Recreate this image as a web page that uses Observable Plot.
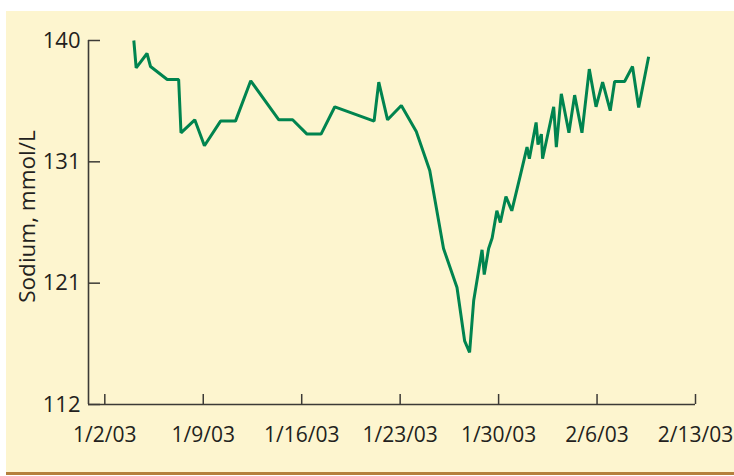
<!DOCTYPE html>
<html><head><meta charset="utf-8">
<script src="https://cdn.jsdelivr.net/npm/d3@7"></script>
<script src="https://cdn.jsdelivr.net/npm/@observablehq/plot@0.6"></script>
<style>
html,body{margin:0;padding:0;background:#fff;width:734px;height:476px;overflow:hidden;}
#panel{position:absolute;left:6px;top:11px;width:728px;height:461px;background:#fdf5cf;border-bottom:3px solid #b5803d;}
#chart{position:absolute;left:0;top:0;}
</style></head><body>
<div id="panel"></div>
<div id="chart"></div>
<script>
const times = [
"2003-01-04T01:30","2003-01-04T05:30","2003-01-05T00:00","2003-01-05T06:00","2003-01-06T10:30",
"2003-01-07T06:00","2003-01-07T10:00","2003-01-08T09:30","2003-01-09T02:00","2003-01-10T05:30",
"2003-01-11T07:00","2003-01-12T09:00","2003-01-14T09:00","2003-01-15T08:30","2003-01-16T09:00",
"2003-01-17T09:00","2003-01-18T08:30","2003-01-21T03:30","2003-01-21T11:30","2003-01-22T02:30",
"2003-01-23T02:00","2003-01-24T03:30","2003-01-25T02:30","2003-01-26T02:00","2003-01-27T01:00",
"2003-01-27T14:00","2003-01-27T22:30","2003-01-28T05:30","2003-01-28T19:45","2003-01-28T23:30",
"2003-01-29T07:00","2003-01-29T13:00","2003-01-29T21:00","2003-01-30T03:00","2003-01-30T12:30",
"2003-01-30T22:30","2003-01-31T13:30","2003-02-01T00:30","2003-02-01T04:30","2003-02-01T16:00",
"2003-02-01T19:15","2003-02-02T01:00","2003-02-02T03:00","2003-02-02T22:00","2003-02-03T02:30",
"2003-02-03T11:00","2003-02-04T00:00","2003-02-04T09:45","2003-02-04T22:15","2003-02-05T10:45",
"2003-02-05T22:15","2003-02-06T09:30","2003-02-06T22:30","2003-02-07T06:00","2003-02-07T23:00",
"2003-02-08T12:30","2003-02-08T23:00","2003-02-09T16:00"
];
const sodium = [
140.0,137.9,139.0,138.0,137.0,
137.0,132.9,133.9,131.9,133.8,
133.8,136.9,133.9,133.9,132.8,
132.8,134.9,133.8,136.8,133.9,
135.0,133.0,130.0,124.0,121.0,
116.9,116.0,120.0,123.9,122.0,
124.0,124.8,126.9,126.0,128.0,
126.9,129.7,131.8,130.9,133.7,
132.0,132.8,130.9,134.9,131.8,
135.9,132.9,135.8,132.9,137.8,
134.9,136.8,134.6,136.85,136.85,
138.0,134.85,138.75
];
const xTickDates = ["2003-01-02","2003-01-09","2003-01-16","2003-01-23","2003-01-30","2003-02-06","2003-02-13"];
const xTickLabels = ["1/2/03","1/9/03","1/16/03","1/23/03","1/30/03","2/6/03","2/13/03"];
const yTickValues = [112, 121.333, 130.667, 140];
const yTickLabels = ["112","121","131","140"];
const yLabel = "Sodium, mmol/L";

const data = times.map((t, i) => ({date: new Date(t + ":00Z"), value: sodium[i]}));
const xDates = xTickDates.map(d => new Date(d + "T00:00:00Z"));
const xLabelMap = new Map(xDates.map((d, i) => [+d, xTickLabels[i]]));
const yLabelMap = new Map(yTickValues.map((v, i) => [v, yTickLabels[i]]));
const xStart = new Date(Date.UTC(2002, 11, 31, 20, 10));
const axisColor = "#3c3a36";

const plot = Plot.plot({
  width: 734, height: 476,
  marginLeft: 88, marginRight: 39, marginTop: 40, marginBottom: 72,
  style: {background: "transparent", fontFamily: "'Open Sans', sans-serif", fontSize: "22px", color: "#231f20", overflow: "visible"},
  x: {type: "utc", domain: [xStart, xDates[xDates.length - 1]]},
  y: {domain: [112, 140]},
  marks: [
    Plot.ruleY([112], {stroke: axisColor, strokeWidth: 1.6}),
    Plot.ruleX([xStart], {stroke: axisColor, strokeWidth: 1.6}),
    Plot.axisY({ticks: yTickValues, tickFormat: d => yLabelMap.get(d), tickSize: -12, tickPadding: 20, stroke: axisColor, strokeWidth: 1.5, label: null, fontSize: 22}),
    Plot.axisX({ticks: xDates, tickFormat: d => xLabelMap.get(+d), tickSize: -10, tickPadding: 33, stroke: axisColor, strokeWidth: 1.5, label: null, fontSize: 21}),
    Plot.text([yLabel], {text: d => d, frameAnchor: "left", textAnchor: "middle", rotate: -90, dx: -61, dy: -6, fontSize: 22.5, fill: "#231f20"}),
    Plot.line(data, {x: "date", y: "value", stroke: "#00844f", strokeWidth: 3, strokeLinejoin: "miter", strokeLinecap: "butt"})
  ]
});
document.getElementById("chart").appendChild(plot);
</script>
</body></html>
